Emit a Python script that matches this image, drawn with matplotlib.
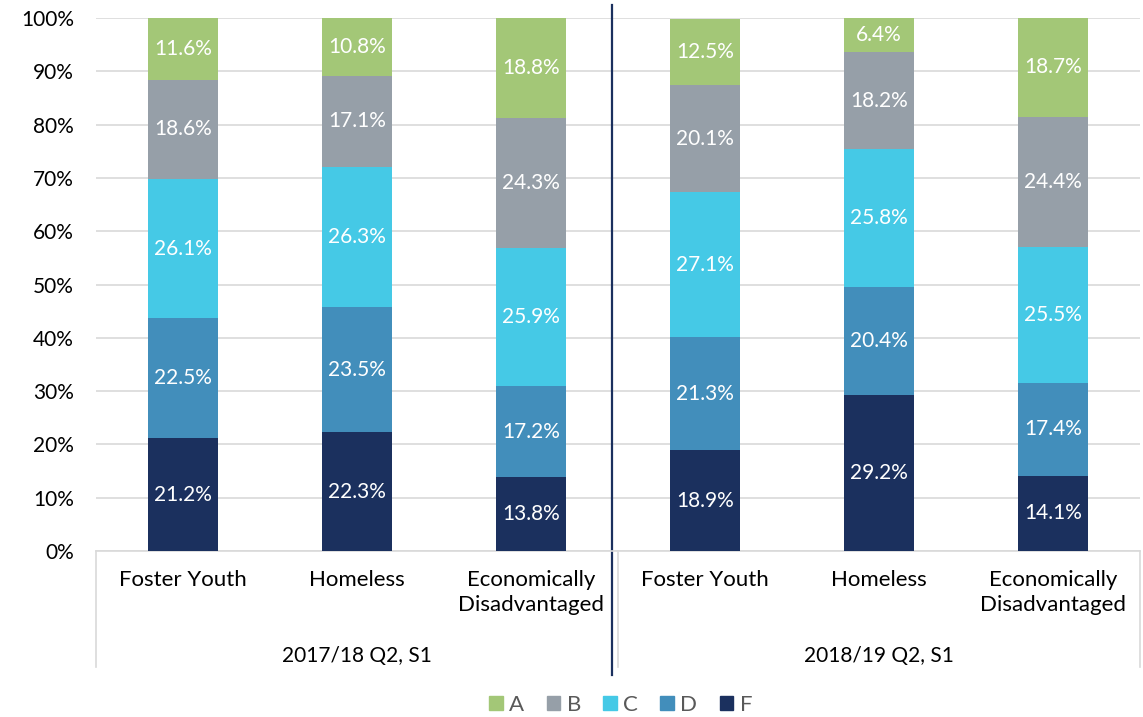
import numpy as np
import matplotlib.pyplot as plt
from matplotlib.lines import Line2D
from matplotlib.patches import Patch

plt.rcParams['font.family'] = ['Lato', 'DejaVu Sans']

categories = ["Foster Youth", "Homeless", "Economically\nDisadvantaged"]
groups = ["2017/18 Q2, S1", "2018/19 Q2, S1"]
grades = ["F", "D", "C", "B", "A"]
F = [21.2, 22.3, 13.8, 18.9, 29.2, 14.1]
D = [22.5, 23.5, 17.2, 21.3, 20.4, 17.4]
C = [26.1, 26.3, 25.9, 27.1, 25.8, 25.5]
B = [18.6, 17.1, 24.3, 20.1, 18.2, 24.4]
A = [11.6, 10.8, 18.8, 12.5, 6.4, 18.7]
colors = {"A": "#A3C777", "B": "#969FA8", "C": "#45C9E6", "D": "#428EBB", "F": "#1B305E"}

series = {"F": F, "D": D, "C": C, "B": B, "A": A}
x = np.arange(6)

fig = plt.figure(figsize=(11.43, 7.17), dpi=100)
ax = fig.add_axes([0.084, 0.2315, 0.9134, 0.7434])

bottom = np.zeros(6)
for g in grades:
    vals = np.array(series[g])
    ax.bar(x, vals, 0.4, bottom=bottom, color=colors[g], zorder=3)
    for xi, v, b in zip(x, vals, bottom):
        ax.text(xi, b + v / 2, f"{v:.1f}%", ha='center', va='center',
                color='white', fontsize=15, zorder=4)
    bottom += vals

ax.set_xlim(-0.5, 5.5)
ax.set_ylim(0, 100)
ax.set_yticks(np.arange(0, 101, 10))
ax.set_yticklabels([f"{t}%" for t in range(0, 101, 10)], fontsize=15)
ax.yaxis.grid(True, color='#D9D9D9', linewidth=1.2, zorder=0)
ax.tick_params(axis='y', length=0, pad=16)
ax.set_xticks([])
for s in ['top', 'right', 'left']:
    ax.spines[s].set_visible(False)
ax.spines['bottom'].set_color('#D9D9D9')
ax.spines['bottom'].set_linewidth(1.2)

# category and group labels
trans = ax.get_xaxis_transform()
for i, xi in enumerate(x):
    ax.text(xi, -0.035, categories[i % 3], transform=trans, ha='center', va='top',
            fontsize=16, linespacing=1.35)
for gi, gname in enumerate(groups):
    ax.text(1 + 3 * gi, -0.178, gname, transform=trans, ha='center', va='top', fontsize=15)
for xv in [-0.5, 2.5, 5.5]:
    ax.add_line(Line2D([xv, xv], [0, -0.218], transform=trans, color='#D9D9D9',
                       linewidth=1.2, clip_on=False))
# divider line
ax.add_line(Line2D([2.465, 2.465], [1.025, -0.232], transform=trans, color='#1B305E',
                   linewidth=1.6, clip_on=False))

handles = [Patch(color=colors[g], label=g) for g in ["A", "B", "C", "D", "F"]]
leg = fig.legend(handles=handles, loc='center', bbox_to_anchor=(0.543, 0.017), ncol=5,
                 frameon=False, fontsize=16, handlelength=0.6, handleheight=0.6,
                 handletextpad=0.3, columnspacing=1.0)
for t in leg.get_texts():
    t.set_color('#595959')

fig.savefig('out.png', dpi=100)
